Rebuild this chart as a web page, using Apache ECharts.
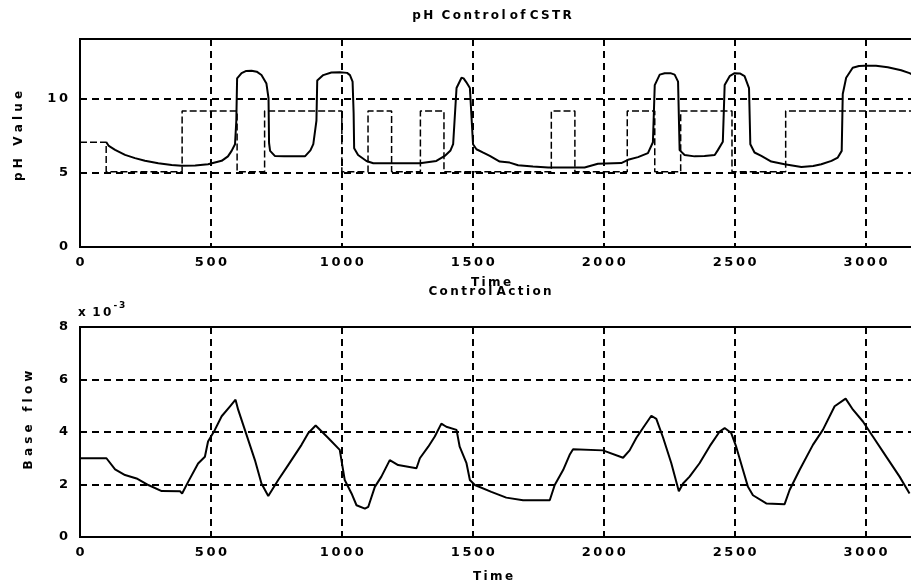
<!DOCTYPE html>
<html>
<head>
<meta charset="utf-8">
<script src="https://cdn.jsdelivr.net/npm/echarts@6/dist/echarts.min.js"></script>
<style>
  html, body { margin: 0; padding: 0; background: #fff; }
  #chart { width: 911px; height: 588px; }
</style>
</head>
<body>
<div id="chart"></div>
<script>
// pH response of the reactor (time, pH)
const phTime = [100, 110, 134, 172, 210, 248, 299, 350, 388, 440, 489, 541, 565, 579, 592, 597, 600, 617, 635, 655, 675, 693, 712, 720, 722, 726, 744, 780, 859, 880, 891, 903, 906, 929, 960, 992, 1020, 1031, 1041, 1045, 1047, 1062, 1094, 1120, 1298, 1361, 1393, 1415, 1425, 1438, 1457, 1465, 1475, 1489, 1501, 1514, 1540, 1565, 1603, 1641, 1673, 1730, 1788, 1927, 1978, 2067, 2093, 2131, 2169, 2188, 2195, 2214, 2233, 2255, 2271, 2284, 2290, 2309, 2347, 2385, 2424, 2436, 2455, 2462, 2481, 2500, 2520, 2538, 2555, 2560, 2576, 2602, 2640, 2691, 2755, 2800, 2831, 2870, 2894, 2909, 2913, 2926, 2951, 2975, 2996, 3040, 3085, 3136, 3168, 3180];
const phValue = [7.07, 6.8, 6.54, 6.2, 5.98, 5.8, 5.63, 5.52, 5.47, 5.48, 5.57, 5.8, 6.1, 6.47, 6.92, 8.5, 11.35, 11.7, 11.85, 11.87, 11.8, 11.58, 11.0, 10.0, 7.0, 6.47, 6.13, 6.1, 6.1, 6.5, 6.92, 8.5, 11.2, 11.57, 11.75, 11.77, 11.72, 11.57, 11.13, 9.0, 6.64, 6.19, 5.79, 5.64, 5.64, 5.79, 6.13, 6.5, 6.92, 10.7, 11.39, 11.35, 11.1, 10.7, 6.92, 6.58, 6.35, 6.13, 5.75, 5.68, 5.5, 5.42, 5.35, 5.35, 5.6, 5.65, 5.87, 6.05, 6.32, 7.05, 10.9, 11.6, 11.7, 11.7, 11.6, 11.13, 6.52, 6.19, 6.1, 6.12, 6.19, 6.52, 7.08, 10.9, 11.5, 11.7, 11.68, 11.5, 10.7, 6.92, 6.36, 6.13, 5.75, 5.57, 5.39, 5.45, 5.57, 5.8, 6.02, 6.47, 10.3, 11.39, 12.06, 12.18, 12.2, 12.2, 12.1, 11.9, 11.7, 11.6];

// pH setpoint: value held from each switching time until the next one
const spTime = [0, 100, 390, 600, 705, 1000, 1100, 1190, 1300, 1390, 1800, 1890, 2090, 2195, 2294, 2490, 2695, 3250];
const spValue = [7.05, 5.06, 9.15, 5.06, 9.15, 5.06, 9.15, 5.06, 9.15, 5.06, 9.15, 5.06, 9.15, 5.06, 9.15, 5.06, 9.15, 9.15];

// base flow control action (x 10^-3)
const flowTime = [0, 101, 134, 172, 216, 261, 312, 382, 390, 413, 451, 477, 489, 515, 541, 573, 594, 604, 636, 668, 693, 719, 757, 795, 846, 872, 900, 948, 992, 1011, 1037, 1056, 1088, 1101, 1126, 1151, 1183, 1215, 1285, 1298, 1330, 1355, 1380, 1399, 1438, 1450, 1476, 1489, 1508, 1571, 1628, 1692, 1794, 1813, 1845, 1870, 1883, 1997, 2074, 2099, 2125, 2150, 2182, 2201, 2227, 2258, 2287, 2303, 2328, 2366, 2405, 2443, 2462, 2487, 2506, 2532, 2551, 2570, 2621, 2691, 2710, 2748, 2799, 2837, 2882, 2924, 2952, 2990, 3028, 3079, 3130, 3168];
const flowValue = [3.0, 3.0, 2.58, 2.36, 2.23, 1.98, 1.75, 1.74, 1.66, 2.1, 2.8, 3.06, 3.64, 4.08, 4.6, 4.98, 5.23, 4.85, 3.89, 2.93, 2.04, 1.56, 2.17, 2.74, 3.51, 3.96, 4.25, 3.77, 3.32, 2.17, 1.66, 1.21, 1.08, 1.15, 1.91, 2.3, 2.93, 2.74, 2.62, 3.0, 3.44, 3.83, 4.32, 4.2, 4.08, 3.44, 2.81, 2.17, 1.98, 1.72, 1.5, 1.4, 1.4, 1.98, 2.55, 3.13, 3.34, 3.3, 3.02, 3.3, 3.78, 4.15, 4.62, 4.5, 3.78, 2.82, 1.74, 2.04, 2.3, 2.81, 3.46, 4.02, 4.15, 3.96, 3.44, 2.55, 1.91, 1.59, 1.28, 1.25, 1.79, 2.55, 3.51, 4.08, 4.98, 5.27, 4.85, 4.4, 3.83, 3.06, 2.3, 1.66];

// axis ticks
const timeTicks = { min: 0, max: 3250, interval: 500 };
const phTicks = { min: 0, max: 14, interval: 5 };
const flowTicks = { min: 0, max: 8, interval: 2 };

const pairs = (xs, ys) => xs.map((x, i) => [x, ys[i]]);
const spaced = v => String(v).split('').join('\u2009');
const letterSpaced = s => s.split('').join('\u2009');

const FONT = 'DejaVu Sans';
const gridDash = { color: '#000', type: [7, 5], width: 2 };

function timeAxis(gridIndex) {
  return {
    type: 'value', gridIndex,
    min: timeTicks.min, max: timeTicks.max, interval: timeTicks.interval,
    axisLine: { show: false }, axisTick: { show: false },
    axisLabel: { showMaxLabel: false, color: '#000', fontFamily: FONT, fontWeight: 'bold', fontSize: 13, margin: 9, formatter: spaced },
    splitLine: { show: true, lineStyle: gridDash }
  };
}
function valueAxis(gridIndex, t, showMax) {
  return {
    type: 'value', gridIndex,
    min: t.min, max: t.max, interval: t.interval,
    axisLine: { show: false }, axisTick: { show: false },
    axisLabel: { showMaxLabel: showMax, color: '#000', fontFamily: FONT, fontWeight: 'bold', fontSize: 13, margin: 12, formatter: spaced },
    splitLine: { show: true, lineStyle: gridDash }
  };
}
function label(text, x, y, opts, size) {
  return Object.assign({
    type: 'text', x, y, z: 100,
    style: { text, fill: '#000', font: 'bold ' + (size || 12) + 'px "' + FONT + '"', textAlign: 'center', textVerticalAlign: 'middle' }
  }, opts || {});
}

const chart = echarts.init(document.getElementById('chart'), null, { renderer: 'canvas' });
chart.setOption({
  animation: false,
  backgroundColor: '#fff',
  grid: [
    { left: 80, top: 39, width: 851, height: 208, outerBoundsMode: 'none', show: true, borderColor: '#000', borderWidth: 2 },
    { left: 80, top: 327, width: 851, height: 210, outerBoundsMode: 'none', show: true, borderColor: '#000', borderWidth: 2 }
  ],
  xAxis: [timeAxis(0), timeAxis(1)],
  yAxis: [valueAxis(0, phTicks, false), valueAxis(1, flowTicks, true)],
  series: [
    {
      name: 'Setpoint', type: 'line', xAxisIndex: 0, yAxisIndex: 0,
      data: pairs(spTime, spValue), step: 'end', showSymbol: false,
      lineStyle: { color: '#000', width: 1.5, type: [7, 3] }
    },
    {
      name: 'pH', type: 'line', xAxisIndex: 0, yAxisIndex: 0,
      data: pairs(phTime, phValue), showSymbol: false,
      lineStyle: { color: '#000', width: 2 }
    },
    {
      name: 'Base flow', type: 'line', xAxisIndex: 1, yAxisIndex: 1,
      data: pairs(flowTime, flowValue), showSymbol: false,
      lineStyle: { color: '#000', width: 2 }
    }
  ],
  graphic: [
    label(letterSpaced('pH') + '  ' + letterSpaced('Control') + ' ' + letterSpaced('of') + ' ' + letterSpaced('CSTR'), 492, 16, null, 12),
    label(letterSpaced('Time'), 491, 283),
    label(letterSpaced('Control') + ' ' + letterSpaced('Action'), 490, 292),
    label(letterSpaced('Time'), 493, 577),
    label('p H   V a l u e', 19, 136, { rotation: Math.PI / 2 }, 12),
    label('B a s e   f l o w', 29, 420, { rotation: Math.PI / 2 }, 12),
    {
      type: 'text', x: 78, y: 310, z: 100,
      style: {
        text: '{b|x\u2009 1\u20090}{s|-\u20093}',
        fill: '#000',
        rich: {
          b: { font: 'bold 12px "' + FONT + '"', fill: '#000', verticalAlign: 'bottom' },
          s: { font: 'bold 9px "' + FONT + '"', fill: '#000', padding: [0, 0, 9, 2] }
        },
        textVerticalAlign: 'middle'
      }
    }
  ]
});
</script>
</body>
</html>
